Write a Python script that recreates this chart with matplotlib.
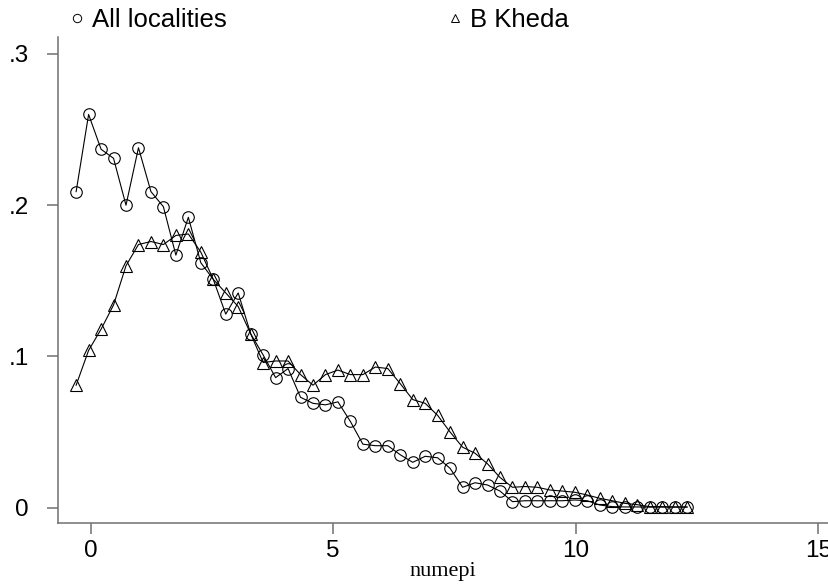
import matplotlib
matplotlib.use("Agg")
import matplotlib.pyplot as plt
from matplotlib.lines import Line2D

# evaluation points (50 points, shared by both series)
numepi = [-0.300, -0.043, 0.214, 0.471, 0.728, 0.985, 1.242, 1.499, 1.756, 2.013,
          2.270, 2.527, 2.784, 3.041, 3.298, 3.555, 3.812, 4.069, 4.326, 4.583,
          4.840, 5.097, 5.354, 5.611, 5.868, 6.125, 6.382, 6.639, 6.896, 7.153,
          7.410, 7.667, 7.924, 8.181, 8.438, 8.695, 8.952, 9.209, 9.466, 9.723,
          9.980, 10.237, 10.494, 10.751, 11.008, 11.265, 11.522, 11.779, 12.036, 12.293]

all_localities = [0.209, 0.260, 0.237, 0.231, 0.200, 0.238, 0.209, 0.199, 0.167, 0.192,
                  0.162, 0.151, 0.128, 0.142, 0.115, 0.101, 0.086, 0.092, 0.073, 0.069,
                  0.068, 0.070, 0.057, 0.042, 0.041, 0.041, 0.035, 0.030, 0.034, 0.033,
                  0.026, 0.0135, 0.0165, 0.015, 0.011, 0.004, 0.0046, 0.0046, 0.0046, 0.0046,
                  0.0051, 0.0046, 0.0018, 0.0007, 0.0005, 0.0005, 0.0004, 0.0004, 0.0004, 0.0004]

b_kheda = [0.081, 0.104, 0.118, 0.134, 0.160, 0.174, 0.176, 0.174, 0.180, 0.181,
           0.169, 0.151, 0.142, 0.133, 0.115, 0.096, 0.097, 0.097, 0.088, 0.081,
           0.088, 0.091, 0.088, 0.088, 0.093, 0.092, 0.082, 0.0715, 0.069, 0.061,
           0.050, 0.040, 0.036, 0.029, 0.020, 0.0135, 0.014, 0.0135, 0.0117, 0.011,
           0.0102, 0.0084, 0.0062, 0.0046, 0.0029, 0.002, 0.0007, 0.0007, 0.0005, 0.0005]

xticks = [0, 5, 10, 15]
yticks = [0, 0.1, 0.2, 0.3]
yticklabels = ["0", ".1", ".2", ".3"]

plt.rcParams["font.family"] = ["Liberation Sans", "DejaVu Sans"]
axis_grey = "#707070"

fig = plt.figure(figsize=(8.29, 5.85), dpi=100)
ax = fig.add_axes([0.0696, 0.1055, 0.9304, 0.8307])

ax.plot(numepi, all_localities, color="black", lw=0.8, marker="o",
        markersize=8.3, markerfacecolor="none", markeredgecolor="black",
        markeredgewidth=0.8)
ax.plot(numepi, b_kheda, color="black", lw=0.8, marker="^",
        markersize=8.3, markerfacecolor="none", markeredgecolor="black",
        markeredgewidth=0.8)

ax.set_xlim(-0.68, 15.22)
ax.set_ylim(-0.0103, 0.311)
ax.set_xticks(xticks)
ax.set_yticks(yticks)
ax.set_yticklabels(yticklabels)

for side in ["top", "right"]:
    ax.spines[side].set_visible(False)
for side in ["left", "bottom"]:
    ax.spines[side].set_color(axis_grey)
    ax.spines[side].set_linewidth(1.1)

ax.tick_params(axis="both", direction="out", length=7.8, width=1.1,
               color=axis_grey, labelsize=17.5, labelcolor="black")
ax.tick_params(axis="y", pad=13)
ax.tick_params(axis="x", pad=4)

ax.set_xlabel("numepi", family="Liberation Serif", fontsize=16, labelpad=0)

# legend keys along the top
handles = [Line2D([], [], ls="none", marker="o", markersize=6,
                  markerfacecolor="none", markeredgecolor="black", markeredgewidth=0.7),
           Line2D([], [], ls="none", marker="^", markersize=6,
                  markerfacecolor="none", markeredgecolor="black", markeredgewidth=0.7)]
fig.legend(handles, ["All localities", "B Kheda"], loc="upper left",
           bbox_to_anchor=(0.066, 1.012), ncol=2, frameon=False, fontsize=18.5,
           handlelength=0.55, handletextpad=0.3, columnspacing=8.6,
           borderaxespad=0.2)

fig.savefig("out.png", dpi=100)
